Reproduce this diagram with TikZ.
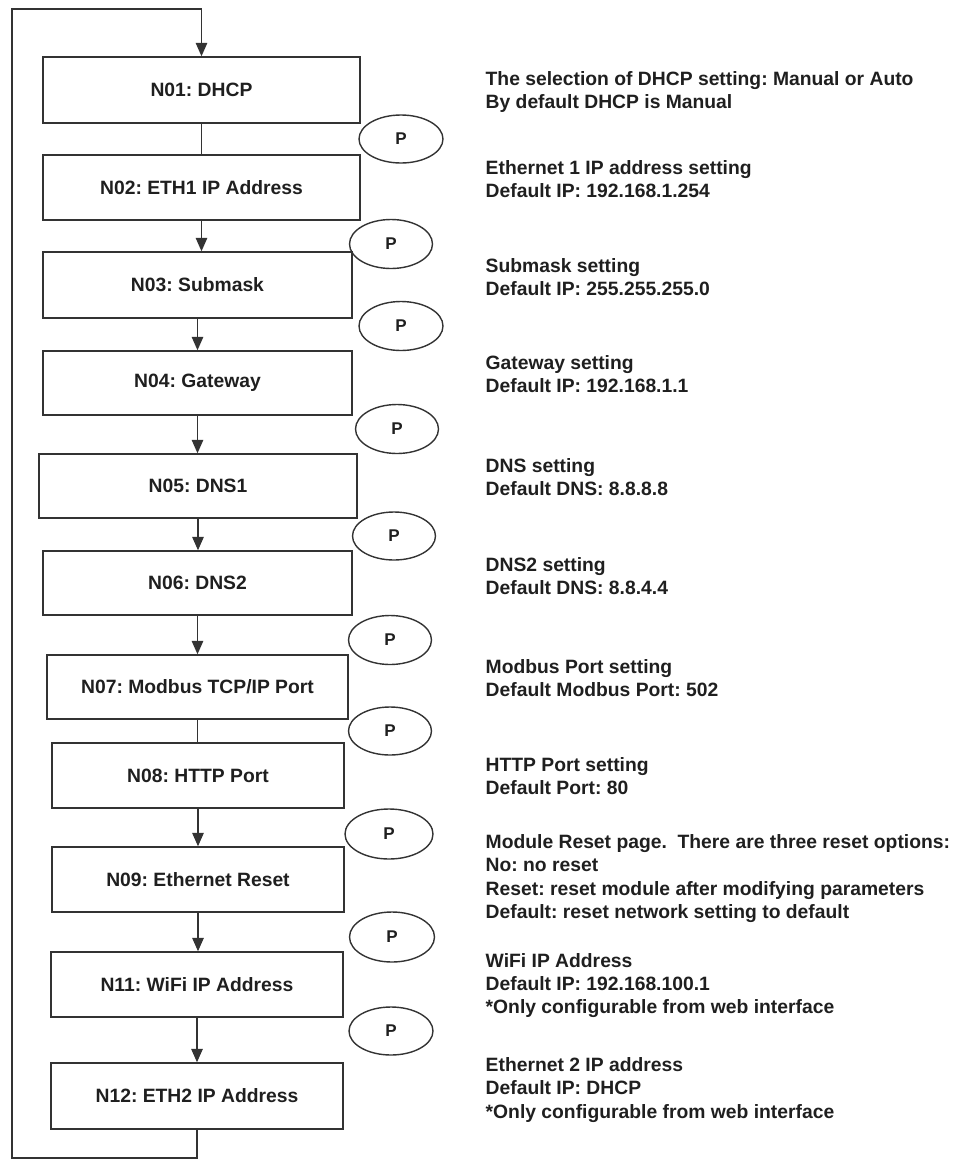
\documentclass[tikz,border=0pt]{standalone}
\usepackage{fontspec}
\setmainfont{Liberation Sans}
\usetikzlibrary{arrows.meta,shapes.geometric}
\begin{document}
\frenchspacing
\begin{tikzpicture}[x=1pt,y=-1pt,
  line width=1.4pt,
  every node/.style={text=black!88},
  stepbox/.style={draw=black!80, rectangle, inner sep=0pt, font=\bfseries\fontsize{19.3}{23.3}\selectfont},
  pnode/.style={draw=black!80, ellipse, inner sep=0pt, font=\bfseries\fontsize{17}{20}\selectfont},
  desc/.style={anchor=north west, align=left, inner sep=0pt, font=\bfseries\fontsize{19.3}{23.3}\selectfont},
  conn/.style={draw=black!80},
  arr/.style={draw=black!80, -{Triangle[length=13.5pt,width=11.5pt]}}]
\useasboundingbox (0,0) rectangle (958,1160);

% boxes
\node[stepbox, minimum width=317pt, minimum height=66pt] (n01) at (201.5,90)   {N01: DHCP};
\node[stepbox, minimum width=317pt, minimum height=65pt] (n02) at (201.5,187.5) {N02: ETH1 IP Address};
\node[stepbox, minimum width=309pt, minimum height=66pt] (n03) at (197.5,285)  {N03: Submask};
\node[stepbox, minimum width=309pt, minimum height=64pt] (n04) at (197.5,383)  {N04: Gateway};
\node[stepbox, minimum width=318pt, minimum height=64pt] (n05) at (198,486)    {N05: DNS1};
\node[stepbox, minimum width=309pt, minimum height=64pt] (n06) at (197.5,583)  {N06: DNS2};
\node[stepbox, minimum width=301pt, minimum height=64pt] (n07) at (197.5,687)  {N07: Modbus TCP/IP Port};
\node[stepbox, minimum width=292pt, minimum height=65pt] (n08) at (198,775.5)  {N08: HTTP Port};
\node[stepbox, minimum width=292pt, minimum height=65pt] (n09) at (198,879.5)  {N09: Ethernet Reset};
\node[stepbox, minimum width=292pt, minimum height=65pt] (n11) at (197,984.5)  {N11: WiFi IP Address};
\node[stepbox, minimum width=292pt, minimum height=66pt] (n12) at (197,1096)   {N12: ETH2 IP Address};

% P ellipses
\node[pnode, minimum width=84pt, minimum height=48pt] (p1)  at (401,139)  {P};
\node[pnode, minimum width=83pt, minimum height=49pt] (p2)  at (391,244)  {P};
\node[pnode, minimum width=84pt, minimum height=49pt] (p3)  at (401,326)  {P};
\node[pnode, minimum width=83pt, minimum height=49pt] (p4)  at (397,429)  {P};
\node[pnode, minimum width=83pt, minimum height=48pt] (p5)  at (394,536)  {P};
\node[pnode, minimum width=83pt, minimum height=49pt] (p6)  at (390,640)  {P};
\node[pnode, minimum width=83pt, minimum height=48pt] (p7)  at (390,731)  {P};
\node[pnode, minimum width=88pt, minimum height=50pt] (p8)  at (389,834)  {P};
\node[pnode, minimum width=85pt, minimum height=50pt] (p9)  at (392,937)  {P};
\node[pnode, minimum width=84pt, minimum height=48pt] (p10) at (391,1031) {P};

% connectors
\draw[conn] (n01.south) -- (n01.south |- n02.north);
\draw[arr]  (n02.south) -- (n02.south |- n03.north);
\draw[arr]  (n03.south) -- (n03.south |- n04.north);
\draw[arr]  (n04.south) -- (n04.south |- n05.north);
\draw[arr]  (n05.south) -- (n05.south |- n06.north);
\draw[arr]  (n06.south) -- (n06.south |- n07.north);
\draw[conn] (n07.south) -- (n07.south |- n08.north);
\draw[arr]  (n08.south) -- (n08.south |- n09.north);
\draw[arr]  (n09.south) -- (n09.south |- n11.north);
\draw[arr]  (n11.south) -- (n11.south |- n12.north);

% loop back
\coordinate (lbl) at (12,1158);
\coordinate (ltl) at (12,9);
\draw[arr] (n12.south) -- (n12.south |- lbl) -- (lbl) -- (ltl) -- (ltl -| n01.north) -- (n01.north);

% descriptions
\node[desc] (t1)  at (485,71)   {The selection of DHCP setting: Manual or Auto\\By default DHCP is Manual};
\node[desc] (t2)  at (485,160)  {Ethernet 1 IP address setting\\Default IP: 192.168.1.254};
\node[desc] (t3)  at (485,257.5){Submask setting\\Default IP: 255.255.255.0};
\node[desc] (t4)  at (485,354.5){Gateway setting\\Default IP: 192.168.1.1};
\node[desc] (t5)  at (485,458)  {DNS setting\\Default DNS: 8.8.8.8};
\node[desc] (t6)  at (485,557)  {DNS2 setting\\Default DNS: 8.8.4.4};
\node[desc] (t7)  at (485,659)  {Modbus Port setting\\Default Modbus Port: 502};
\node[desc] (t8)  at (485,757)  {HTTP Port setting\\Default Port: 80};
\node[desc] (t9)  at (485,834)  {Module Reset page.\ \ There are three reset options:\\No: no reset\\Reset: reset module after modifying parameters\\Default: reset network setting to default};
\node[desc] (t10) at (485,952.5){WiFi IP Address\\Default IP: 192.168.100.1\\*Only configurable from web interface};
\node[desc] (t11) at (485,1057) {Ethernet 2 IP address\\Default IP: DHCP\\*Only configurable from web interface};
\end{tikzpicture}
\end{document}
